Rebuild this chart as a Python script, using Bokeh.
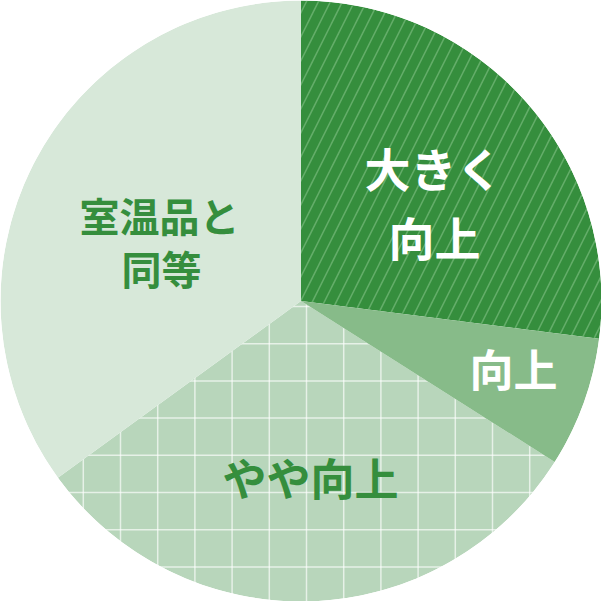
from bokeh.plotting import figure
from bokeh.models import Range1d
from bokeh.embed import file_html
from bokeh.resources import INLINE
from bokeh.core.properties import value
import math

# ---- data ----
categories = ["大きく向上", "向上", "やや向上", "室温品と同等"]
shares = [27, 7, 31, 35]
colors = ["#358e3d", "#87bb89", "#b8d6bb", "#d7e8d9"]

label_lines = ["大きく", "向上", "向上", "やや向上", "室温品と", "同等"]
label_x = [433, 434, 513, 310, 159, 161]
label_y = [166, 235, 367, 476, 214, 267]   # page coords (downward)
label_color = ["white", "white", "white", "#358e3d", "#358e3d", "#358e3d"]
label_size = ["46px", "46px", "44px", "44px", "40px", "40px"]

W = H = 601
CX, CY, R = 300.5, 300.5, 300.5

p = figure(width=W, height=H, output_backend="svg", toolbar_location=None,
           x_range=Range1d(0, W), y_range=Range1d(0, H),
           min_border=0, outline_line_color=None)
p.axis.visible = False
p.grid.visible = False
p.background_fill_color = "white"
p.border_fill_color = "white"

total = sum(shares)
starts, ends = [], []
cum = 0
for s in shares:
    a0 = math.radians(90 - cum / total * 360)
    cum += s
    a1 = math.radians(90 - cum / total * 360)
    starts.append(a0)
    ends.append(a1)

# やや向上 first (with grid texture)
i = 2
p.wedge(x=CX, y=CY, radius=R, start_angle=starts[i], end_angle=ends[i],
        direction="clock", fill_color=colors[i], line_color=None)

# grid texture
step = 37.2
base = 306.0
xs0, ys0, xs1, ys1 = [], [], [], []
for k in range(-9, 9):
    v = base + k * step
    xs0.append(v); ys0.append(0); xs1.append(v); ys1.append(H)
    yy = H - v
    xs0.append(0); ys0.append(yy); xs1.append(W); ys1.append(yy)
p.segment(x0=xs0, y0=ys0, x1=xs1, y1=ys1, line_color="white", line_alpha=0.65, line_width=1.5)

# other wedges on top
for i in [0, 1, 3]:
    kw = {}
    if i == 0:
        kw = dict(hatch_pattern="/", hatch_color="#6fb574", hatch_alpha=0.8,
                  hatch_weight=1.5, hatch_scale=24)
    p.wedge(x=CX, y=CY, radius=R, start_angle=starts[i], end_angle=ends[i],
            direction="clock", fill_color=colors[i], line_color=None, **kw)

# white mask outside the circle
p.annulus(x=CX, y=CY, inner_radius=R, outer_radius=600, fill_color="white", line_color=None)

for t, x, y, c, s in zip(label_lines, label_x, label_y, label_color, label_size):
    p.text(x=[x], y=[H - y], text=[t], text_color=c, text_align="center",
           text_baseline="middle", text_font=value("Noto Sans CJK JP"),
           text_font_style="bold", text_font_size=value(s))

open("out.html", "w").write(file_html(p, INLINE))
